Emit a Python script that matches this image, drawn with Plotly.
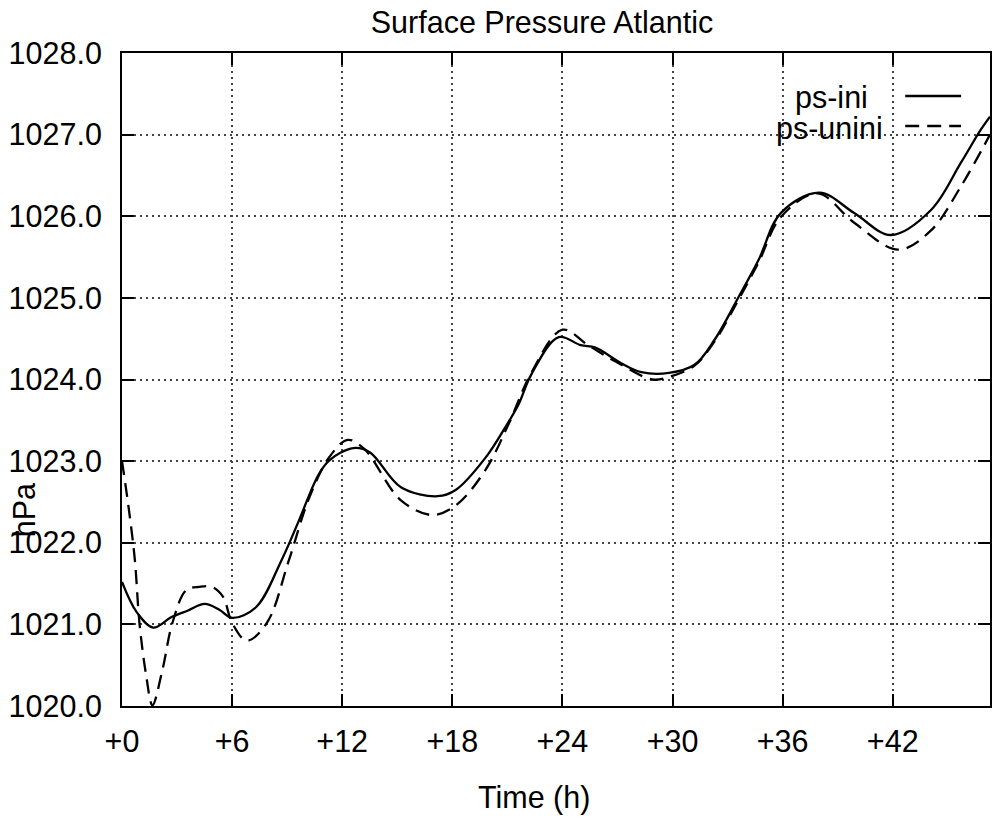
import plotly.graph_objects as go

# ---- data ----
t_ini = [0, 0.8, 1.7, 2.7, 3.6, 4.5, 5.3, 6.0, 7.3, 8.7, 9.6, 10.7, 11.3, 12.6, 13.5,
         15.2, 17.2, 18.2, 19.8, 20.9, 21.6, 22.3, 23.8, 25.0, 25.8, 27.2, 28.3, 29.8,
         31.2, 32.3, 33.6, 34.7, 35.9, 38.0, 39.9, 41.9, 44.1, 45.7, 46.8, 47.3]
ps_ini = [1021.52, 1021.15, 1020.96, 1021.09, 1021.17, 1021.25, 1021.18, 1021.08, 1021.21,
          1021.79, 1022.25, 1022.83, 1023.01, 1023.16, 1023.11, 1022.68, 1022.57, 1022.65,
          1023.04, 1023.42, 1023.69, 1024.06, 1024.52, 1024.42, 1024.39, 1024.20, 1024.09,
          1024.08, 1024.18, 1024.49, 1025.01, 1025.47, 1026.04, 1026.29, 1026.04, 1025.77,
          1026.08, 1026.65, 1027.06, 1027.22]

t_unini = [0, 0.35, 0.7, 0.95, 1.3, 1.66, 2.2, 2.75, 3.5, 4.2, 4.9, 5.5, 6.0, 6.8, 7.9,
           9.1, 10.2, 11.3, 12.3, 13.2, 15.2, 16.9, 18.2, 19.8, 21.1, 22.3, 24.0, 25.4,
           26.9, 28.9, 29.8, 31.2, 32.3, 33.6, 34.7, 35.9, 37.9, 39.9, 42.3, 44.1, 45.7, 47.3]
ps_unini = [1023.0, 1022.45, 1021.79, 1021.02, 1020.4, 1020.01, 1020.44, 1021.02, 1021.42,
            1021.46, 1021.46, 1021.34, 1021.02, 1020.80, 1021.02, 1021.79, 1022.55, 1023.05,
            1023.26, 1023.15, 1022.52, 1022.34, 1022.46, 1022.89, 1023.47, 1024.08, 1024.61,
            1024.42, 1024.22, 1024.0, 1024.03, 1024.17, 1024.47, 1024.98, 1025.44, 1025.99,
            1026.28, 1025.92, 1025.59, 1025.83, 1026.36, 1027.0]

x_ticks = [0, 6, 12, 18, 24, 30, 36, 42]
x_ticktext = ["+0", "+6", "+12", "+18", "+24", "+30", "+36", "+42"]
y_ticks = [1020, 1021, 1022, 1023, 1024, 1025, 1026, 1027, 1028]

FONT = "Liberation Sans, Arial, Helvetica, sans-serif"
FS = 30.5
DASH = "14px,8px"

fig = go.Figure()
fig.add_trace(go.Scatter(x=t_ini, y=ps_ini, mode="lines", name="ps-ini",
                         line=dict(color="black", width=2.3, shape="spline", smoothing=1.0)))
fig.add_trace(go.Scatter(x=t_unini, y=ps_unini, mode="lines", name="ps-unini",
                         line=dict(color="black", width=2.3, dash=DASH,
                                   shape="spline", smoothing=1.0)))

axis_common = dict(showline=True, linecolor="black", linewidth=2, mirror="ticks",
                   ticks="inside", ticklen=12, tickwidth=2, tickcolor="black",
                   showgrid=True, gridcolor="#444", griddash="2px,4px", gridwidth=1.6,
                   zeroline=False, tickfont=dict(family=FONT, size=FS, color="black"))

fig.update_xaxes(range=[0, 47.3], tickvals=x_ticks, ticktext=x_ticktext,
                 ticklabelstandoff=7, **axis_common)
fig.update_yaxes(range=[1020, 1028], tickvals=y_ticks, tickformat=".1f",
                 ticklabelstandoff=12, **axis_common)

fig.update_layout(
    width=993, height=818,
    margin=dict(l=122, r=1, t=53, b=112),
    plot_bgcolor="white", paper_bgcolor="white",
    showlegend=False,
    font=dict(family=FONT, size=FS, color="black"),
    title=dict(text="Surface Pressure Atlantic", x=542 / 993, xanchor="center",
               y=1 - 22 / 818, yanchor="middle",
               font=dict(family=FONT, size=FS, color="black")),
)

# axis titles
fig.add_annotation(text="Time (h)", xref="paper", yref="paper", x=(535 - 122) / 870,
                   y=(706 - 797) / 653, xanchor="center", yanchor="middle",
                   showarrow=False, font=dict(family=FONT, size=FS, color="black"))
fig.add_annotation(text="hPa", xref="paper", yref="paper", x=(24 - 122) / 870,
                   y=(706 - 510) / 653, xanchor="center", yanchor="middle",
                   textangle=-90, showarrow=False,
                   font=dict(family=FONT, size=FS, color="black"))

# gnuplot-style key
fig.add_annotation(text="ps-ini", xref="paper", yref="paper", x=(872 - 122) / 870,
                   y=(706 - 97) / 653, xanchor="right", yanchor="middle",
                   showarrow=False, font=dict(family=FONT, size=FS, color="black"))
fig.add_annotation(text="ps-unini", xref="paper", yref="paper", x=(887 - 122) / 870,
                   y=(706 - 128) / 653, xanchor="right", yanchor="middle",
                   showarrow=False, font=dict(family=FONT, size=FS, color="black"))
fig.add_shape(type="line", xref="paper", yref="paper",
              x0=(907 - 122) / 870, x1=(963 - 122) / 870,
              y0=(706 - 96) / 653, y1=(706 - 96) / 653,
              line=dict(color="black", width=2.3))
fig.add_shape(type="line", xref="paper", yref="paper",
              x0=(907 - 122) / 870, x1=(963 - 122) / 870,
              y0=(706 - 126) / 653, y1=(706 - 126) / 653,
              line=dict(color="black", width=2.3, dash=DASH))

fig.write_html("out.html")
